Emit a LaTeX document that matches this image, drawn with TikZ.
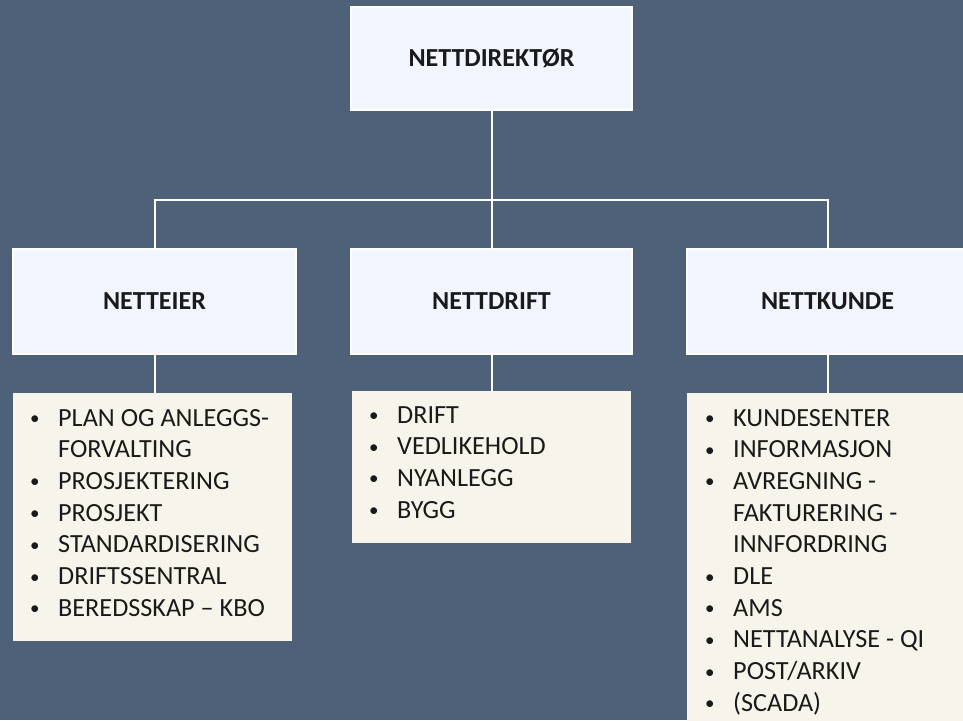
\documentclass[tikz,border=0pt]{standalone}
\usepackage{fontspec}
\setmainfont{Carlito}
\definecolor{bgc}{RGB}{79,96,121}
\definecolor{hdrfill}{RGB}{241,245,254}
\definecolor{listfill}{RGB}{247,245,235}
\definecolor{txt}{RGB}{26,26,26}
\newcommand\bl[1]{\hbox{\makebox[29pt][l]{\hspace*{1pt}\raisebox{1.5pt}{\fontsize{19}{19}\selectfont\textbullet}}#1}}
\newcommand\cn[1]{\hbox{\hspace*{29pt}#1}}
\tikzset{
  hdr/.style={draw=white, line width=2.5pt, fill=hdrfill, minimum height=103pt,
    inner sep=0pt, font=\fontsize{26}{31}\selectfont\bfseries, text=txt},
  listbox/.style={fill=listfill, draw=none},
  listtxt/.style={anchor=base west, inner sep=0pt, text=txt, font=\fontsize{26.2}{31.7}\selectfont},
  conn/.style={draw=white, line width=2pt}
}
\begin{document}
\begin{tikzpicture}[x=1pt,y=-1pt]
\useasboundingbox (0,0) rectangle (963,720);
\clip (0,0) rectangle (963,720);
\fill[bgc] (0,0) rectangle (963,720);
\coordinate (busL) at (154.5,200);
\coordinate (busR) at (827.5,200);
\coordinate (busM) at (491.5,200);
% header nodes
\node[hdr, minimum width=281pt] (top) at (491.5,58.5) {NETTDIREKTØR};
\node[hdr, minimum width=283pt, minimum height=105pt] (eier) at (154.5,301.5) {NETTEIER};
\node[hdr, minimum width=281pt, minimum height=105pt] (drift) at (491.5,301.5) {NETTDRIFT};
\node[hdr, minimum width=281pt, minimum height=105pt] (kunde) at (827.5,301.5) {NETTKUNDE};
% list boxes
\node[listbox, minimum width=279pt, minimum height=248pt, inner sep=0pt] (leier) at (152.5,517) {};
\node[listbox, minimum width=279pt, minimum height=152pt, inner sep=0pt] (ldrift) at (491.5,467) {};
\node[listbox, minimum width=281pt, minimum height=347pt, inner sep=0pt] (lkunde) at (827.5,566.5) {};
% connectors
\draw[conn] (top.south) -- (busM) -- (drift.north);
\draw[conn] (eier.north) |- (busR) -- (kunde.north);
\draw[conn] (eier.south) -- (eier.south |- leier.north);
\draw[conn] (drift.south) -- (drift.south |- ldrift.north);
\draw[conn] (kunde.south) -- (kunde.south |- lkunde.north);
% list texts
\node[listtxt] (teier) at (29,426) {\vtop{\baselineskip=31.7pt
  \bl{PLAN OG ANLEGGS-}\cn{FORVALTING}\bl{PROSJEKTERING}\bl{PROSJEKT}%
  \bl{STANDARDISERING}\bl{DRIFTSSENTRAL}\bl{BEREDSSKAP – KBO}}};
\node[listtxt] (tdrift) at (368,423) {\vtop{\baselineskip=31.7pt
  \bl{DRIFT}\bl{VEDLIKEHOLD}\bl{NYANLEGG}\bl{BYGG}}};
\node[listtxt] (tkunde) at (704,426) {\vtop{\baselineskip=31.7pt
  \bl{KUNDESENTER}\bl{INFORMASJON}\bl{AVREGNING -}\cn{FAKTURERING -}\cn{INNFORDRING}%
  \bl{DLE}\bl{AMS}\bl{NETTANALYSE - QI}\bl{POST/ARKIV}\bl{(SCADA)}}};
\end{tikzpicture}
\end{document}
